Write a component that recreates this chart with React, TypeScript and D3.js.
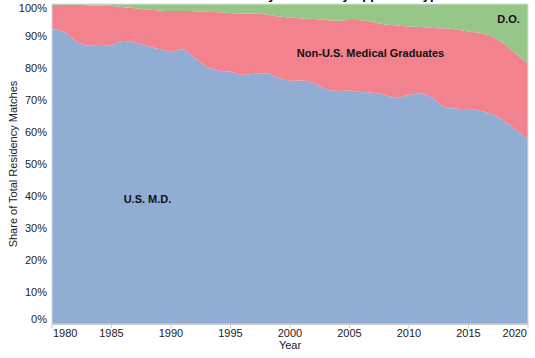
import React from "react";
import * as d3 from "d3";

const years = d3.range(1980, 2021);
// shares (%) per year
const usMD = [92.1, 91.3, 88.4, 87.0, 86.9, 87.2, 88.4, 88.0, 86.9, 85.9, 85.2, 85.8, 83.1, 80.4, 79.2, 78.8, 77.8, 78.2, 78.3, 77.0, 76.0, 76.1, 75.3, 73.4, 72.8, 73.0, 72.5, 72.3, 71.6, 70.8, 71.6, 72.0, 70.6, 67.7, 67.3, 67.2, 66.6, 65.6, 63.4, 60.6, 57.8];
const nonUS = [7.6, 8.4, 11.3, 12.6, 12.6, 12.2, 10.6, 10.7, 11.4, 12.1, 12.6, 12.0, 14.6, 17.2, 18.2, 18.4, 19.2, 18.8, 18.4, 19.1, 19.8, 19.4, 20.0, 21.6, 22.0, 22.0, 22.4, 22.0, 22.0, 22.5, 21.4, 20.8, 21.9, 24.7, 24.7, 24.2, 24.3, 24.2, 24.1, 23.8, 23.6];
const dOsteo = [0.3, 0.3, 0.3, 0.4, 0.5, 0.6, 1.0, 1.3, 1.7, 2.0, 2.2, 2.2, 2.3, 2.4, 2.6, 2.8, 3.0, 3.0, 3.3, 3.9, 4.2, 4.5, 4.7, 5.0, 5.2, 5.0, 5.1, 5.7, 6.4, 6.7, 7.0, 7.2, 7.5, 7.6, 8.0, 8.6, 9.1, 10.2, 12.5, 15.6, 18.6];
const seriesKeys = ["usMD", "nonUS", "do"];
const seriesLabels = ["U.S. M.D.", "Non-U.S. Medical Graduates", "D.O."];
const colors = ["#92add4", "#f2828e", "#97c689"];
const xTicks = [1980, 1985, 1990, 1995, 2000, 2005, 2010, 2015, 2020];
const yTicks = d3.range(0, 101, 10);

const W = 535, H = 358;
const L = 52, R = 528, T = 4, B = 324;
const FONT = "'Liberation Sans', Arial, Helvetica, sans-serif";

export default function App() {
  const x = d3.scaleLinear().domain([1980, 2020]).range([L, R]);
  const y = d3.scaleLinear().domain([0, 100]).range([B, T]);
  const rows = years.map((yr, i) => ({ year: yr, usMD: usMD[i], nonUS: nonUS[i], do: dOsteo[i] }));
  const stack = d3.stack<any>().keys(seriesKeys)(rows);
  const area = d3.area<any>()
    .x((d) => x(d.data.year))
    .y0((d) => y(d[0]))
    .y1((d) => y(d[1]))
    .curve(d3.curveMonotoneX);
  const labelPos = [
    { x: 147.5, y: 203 },
    { x: 370.5, y: 57 },
    { x: 508.5, y: 23 },
  ];
  return (
    <svg width={W} height={H} style={{ position: "absolute", left: 0, top: 0, fontFamily: FONT }}>
      <rect x={0} y={0} width={W} height={H} fill="#fff" />
      <text x={300} y={-1} textAnchor="middle" fontSize={13} fontWeight="bold" fill="#000">
        Share of Residency Matches by Applicant Type
      </text>
      {stack.map((s, i) => (
        <path key={seriesKeys[i]} d={area(s) || ""} fill={colors[i]} />
      ))}
      <rect x={L} y={T} width={R - L} height={B - T} fill="none" stroke="#ddd" strokeWidth={1} />
      {/* x axis */}
      <line x1={L} x2={R} y1={B + 0.5} y2={B + 0.5} stroke="#ccc" />
      {xTicks.map((t, i) => (
        <g key={t}>
          <line x1={x(t)} x2={x(t)} y1={B} y2={B + 4} stroke="#ccc" />
          <text
            x={i === 0 ? x(t) + 1 : i === xTicks.length - 1 ? x(t) - 1 : x(t)}
            y={337}
            fontSize={11}
            fill="#222"
            textAnchor={i === 0 ? "start" : i === xTicks.length - 1 ? "end" : "middle"}
          >
            {t}
          </text>
        </g>
      ))}
      <text x={(L + R) / 2} y={349} fontSize={11} textAnchor="middle" fill="#222">Year</text>
      {/* y axis */}
      {yTicks.map((t, i) => (
        <text
          key={t}
          x={47}
          y={i === 0 ? B - 1 : i === yTicks.length - 1 ? T + 8 : y(t) + 4}
          fontSize={11}
          fill="#222"
          textAnchor="end"
        >
          {t}%
        </text>
      ))}
      <text transform={`translate(16.5,${(T + B) / 2}) rotate(-90)`} fontSize={11} textAnchor="middle" fill="#222">
        Share of Total Residency Matches
      </text>
      {seriesLabels.map((lab, i) => (
        <text key={lab} x={labelPos[i].x} y={labelPos[i].y} fontSize={11} fontWeight="bold" textAnchor="middle" fill="#111">
          {lab}
        </text>
      ))}
    </svg>
  );
}
